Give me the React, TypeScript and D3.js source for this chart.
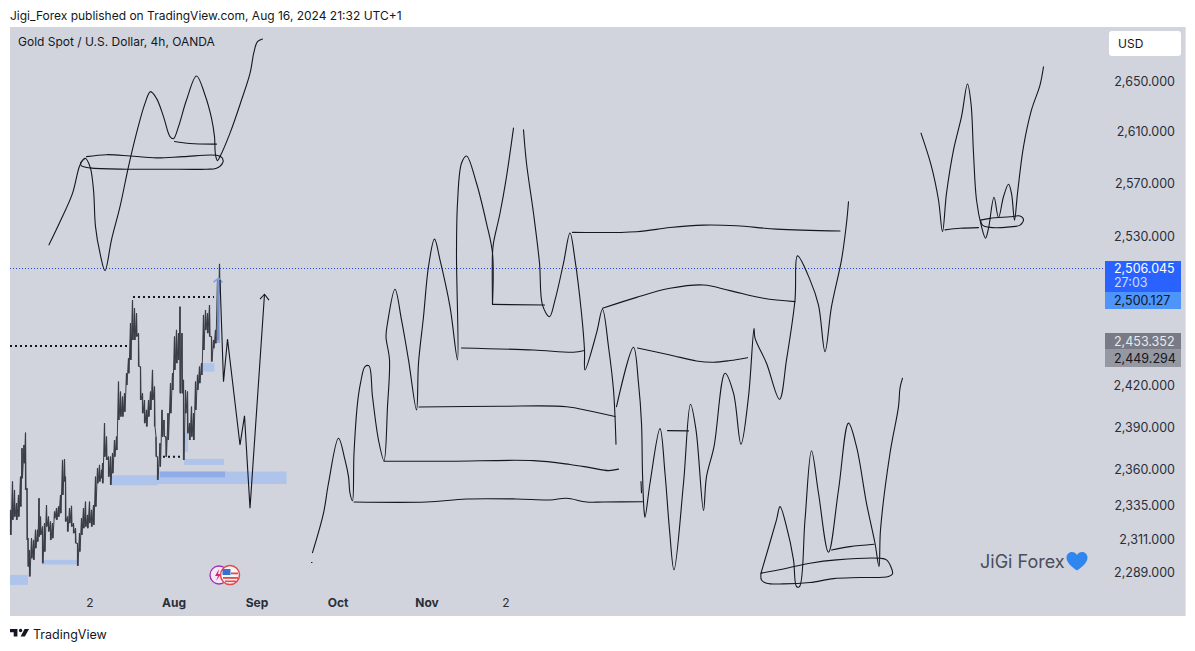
import React from 'react';
import * as d3 from 'd3';

type Pt = [number, number];

const WIDTH = 1195;
const HEIGHT = 651;

// price axis is logarithmic, x is bar number from the left edge of the pane
const priceTicks = [2650, 2610, 2570, 2530, 2420, 2390, 2360, 2335, 2311, 2289];
const timeTickBars = [160, 328, 494, 656, 834, 992];
const timeTickLabels = ['2', 'Aug', 'Sep', 'Oct', 'Nov', '2'];

const lastPrice = 2506.045;

const candleBars = [1, 5, 9, 13, 17, 21, 24, 28, 31, 34, 36, 39, 43, 47, 51, 55, 58, 61, 65, 69, 73, 77, 81, 85, 89, 93, 97, 101, 105, 109, 111, 115, 119, 123, 127, 131, 135, 139, 143, 147, 151, 155, 159, 163, 167, 171, 175, 179, 183, 185, 189, 193, 197, 201, 205, 209, 213, 217, 221, 225, 229, 233, 237, 241, 245, 249, 253, 257, 261, 265, 269, 273, 277, 281, 285, 289, 292, 295, 300, 304, 308, 312, 316, 321, 325, 329, 333, 337, 340, 344, 347, 351, 355, 359, 363, 367, 371, 375, 379, 383, 387, 391, 395, 399, 403, 407, 411, 415, 419];
const candleHighs = [2331.8, 2351.6, 2345.7, 2336.4, 2342.2, 2355, 2375, 2377.4, 2386.1, 2346.9, 2312.2, 2304.1, 2312.2, 2311, 2318, 2318, 2339.9, 2327.1, 2320.2, 2322.6, 2335.2, 2327.1, 2323.7, 2322.6, 2330.6, 2333, 2334.1, 2342.2, 2366.8, 2367.3, 2355, 2327.1, 2333, 2334.6, 2322.6, 2319.1, 2308.7, 2315.6, 2326, 2333, 2337.5, 2328.3, 2337.5, 2331.8, 2335.2, 2355, 2361, 2363.3, 2359.8, 2364.5, 2392.9, 2383.3, 2369.1, 2369.1, 2371.5, 2380.9, 2383.3, 2422.7, 2415.5, 2411.9, 2414.3, 2428.8, 2439.7, 2465.3, 2482.4, 2476.3, 2472.6, 2458, 2433.6, 2414.3, 2409.5, 2402.4, 2409.5, 2415.5, 2431.2, 2419.1, 2383.3, 2369.1, 2378.6, 2402.4, 2395.2, 2383.3, 2400, 2421.6, 2428.8, 2455.5, 2460.4, 2458, 2477.5, 2458, 2424, 2416.7, 2415.5, 2392.9, 2404.7, 2400, 2422.7, 2427.6, 2433.6, 2436.1, 2471.4, 2475, 2472.6, 2478.7, 2455.5, 2453, 2460.4, 2497.4, 2509.3];
const candleLows = [2314.5, 2324.9, 2327.1, 2324.9, 2327.1, 2334.1, 2353.9, 2364.5, 2345.7, 2311, 2292.7, 2286, 2298.4, 2297.3, 2305.3, 2309.9, 2313.3, 2314.5, 2295, 2303, 2320.2, 2316.8, 2311, 2312.2, 2326, 2324.9, 2327.1, 2329.5, 2342.2, 2351.6, 2323.7, 2316.8, 2322.6, 2320.2, 2315.6, 2308.7, 2293.2, 2303, 2314.5, 2319.1, 2320.2, 2319.1, 2322.6, 2320.2, 2321.4, 2334.1, 2350.4, 2351.6, 2353.9, 2350.4, 2369.1, 2366.8, 2355, 2349.2, 2357.4, 2369.1, 2373.8, 2395.2, 2397.6, 2397.6, 2401.1, 2420.3, 2428.8, 2438.5, 2453, 2453, 2455.5, 2433.6, 2409.5, 2400, 2392.9, 2390.5, 2397.6, 2402.4, 2409.5, 2390.5, 2369.1, 2352.8, 2362.1, 2383.3, 2383.3, 2369.1, 2380.9, 2400, 2416.7, 2431.2, 2436.1, 2438.5, 2414.3, 2414.3, 2366.8, 2400, 2385.7, 2380.9, 2383.3, 2380.9, 2402.4, 2416.7, 2421.6, 2427.6, 2445.7, 2460.4, 2458, 2455.5, 2437.3, 2447, 2450.6, 2453, 2487.4];

// fair value gap boxes: first bar, last bar, top, bottom
const gapBoxes: [number, number, number, number][] = [
  [0, 36, 2287, 2280.2],
  [65, 135, 2297.3, 2294.1],
  [203, 296, 2356, 2349],
  [296, 553, 2358.6, 2349.9],
  [348, 428, 2367.5, 2363.3],
  [383, 409, 2436.1, 2430],
  [348, 356, 2385.9, 2372.6],
];
const gapOverlap: [number, number, number, number] = [300, 430, 2358.6, 2354.6];

// dotted levels: first bar, last bar, price
const dottedLevels: [number, number, number][] = [
  [0, 240, 2448.6],
  [246, 408, 2484.6],
  [306, 346, 2369.1],
];

const blueArrowShaft: Pt[] = [[417, 2450.8], [417, 2498.6]];
const blueArrowHead: Pt[] = [[407, 2495.7], [417, 2498.6], [425, 2495.5]];

// hand drawn projections
const topLeftWave: Pt[] = [[78, 2523.6], [100, 2541], [125, 2562.7], [140, 2584.5], [150, 2589.6], [160, 2583.2], [167, 2565.3], [171, 2537.4], [180, 2517.3], [190, 2504.3], [203, 2527.4], [220, 2552.5], [237, 2583.2], [253, 2609.1], [270, 2632.4], [281, 2641.6], [293, 2636.3], [307, 2622], [320, 2606.4], [327, 2604.8], [337, 2614.2], [353, 2635], [373, 2654], [390, 2639], [403, 2620.8], [409, 2606.4], [411, 2592.2], [415, 2587.8], [420, 2590.9], [440, 2609.1], [463, 2635], [480, 2656], [488, 2673.2], [495, 2681.3], [505, 2683.4]];
const topLeftLoop: Pt[] = [[153, 2590.9], [193, 2592.4], [240, 2591.4], [293, 2589.9], [347, 2590.9], [413, 2591.9], [425, 2589.6], [425, 2585.8], [413, 2582], [393, 2581.2], [307, 2581.2], [233, 2581.2], [160, 2582.2], [143, 2583.7], [141, 2585.8], [150, 2589.6]];
const topLeftLevel: Pt[] = [[329, 2602.6], [360, 2601], [413, 2600.6]];
const candleProjection: Pt[] = [[420, 2497.4], [427, 2422.7], [435, 2453.6], [460, 2377.4], [469, 2398.1], [480, 2332.9], [509, 2486.7]];
const projectionHead: Pt[] = [[500, 2483.1], [509, 2486.7], [518, 2482.4]];

const strayDot: Pt[] = [[603, 2295.5], [604, 2295.5]];
const midWaveA: Pt[] = [[605, 2302.3], [627, 2329.5], [637, 2350.4], [657, 2382.2], [670, 2366.8], [677, 2355], [680, 2343.4], [685, 2338.2], [688, 2371.5], [695, 2407.1], [701, 2421.6], [710, 2433.6], [718, 2434.1], [725, 2411.9], [737, 2380.9], [748, 2366.3], [755, 2404.7], [759, 2438.5], [752, 2455.5], [755, 2465.3], [770, 2490.4], [783, 2467.7], [797, 2438.5], [813, 2402.4], [817, 2436.1], [827, 2470.1], [837, 2507.3], [849, 2527.9], [860, 2512.3], [880, 2477.5], [895, 2438.5], [893, 2517.3], [895, 2555.1], [903, 2585.8], [913, 2591.4], [933, 2570.4], [953, 2539.9], [965, 2517.3], [965, 2479.5]];
const midWaveB: Pt[] = [[965, 2479.5], [965, 2517.3], [967, 2525], [980, 2547.5], [992, 2573], [1007, 2613]];
const midWaveC: Pt[] = [[1027, 2611.7], [1033, 2585.8], [1047, 2547.5], [1059, 2509.9], [1065, 2478.7], [1079, 2470.1], [1090, 2482.4], [1107, 2509.9], [1120, 2532.5], [1130, 2512.3], [1143, 2472.6], [1149, 2445.7], [1150, 2431.2], [1173, 2458], [1185, 2475.6], [1197, 2448.1], [1207, 2416.7], [1210, 2397.6], [1212, 2378]];
const midWaveD: Pt[] = [[1213, 2404.7], [1247, 2447.7], [1257, 2421.6], [1263, 2392.9], [1265, 2357.4], [1268, 2331.8], [1270, 2326.7], [1280, 2350.4], [1300, 2389], [1310, 2357.4], [1319, 2318], [1328, 2290.5], [1347, 2350.4], [1361, 2406.4], [1372, 2388.1], [1387, 2331.3], [1393, 2355], [1408, 2376.2], [1430, 2428.8], [1447, 2414.4], [1462, 2378], [1477, 2411.9], [1488, 2461.6], [1490, 2454.3], [1513, 2436.1], [1539, 2410], [1553, 2438.5], [1570, 2482.4], [1575, 2515.3], [1600, 2497.4], [1617, 2478.7], [1630, 2444.5], [1643, 2477.5], [1663, 2512.3], [1673, 2539.9], [1677, 2556.3]];

const levelA: Pt[] = [[688, 2337.3], [833, 2337.3], [913, 2339.4], [1013, 2339.4], [1080, 2338.7], [1113, 2339.9], [1153, 2337.3], [1187, 2337.3], [1265, 2337.5]];
const levelB: Pt[] = [[748, 2365.9], [880, 2365.9], [1047, 2366.3], [1120, 2363.6], [1160, 2361.4], [1197, 2359.3], [1217, 2360.3]];
const levelC: Pt[] = [[818, 2404.5], [980, 2405], [1113, 2404.7], [1160, 2401.6], [1210, 2397.6]];
const levelD: Pt[] = [[903, 2447.2], [1047, 2445.7], [1127, 2444.1], [1147, 2445.2]];
const levelE: Pt[] = [[965, 2479.2], [1069, 2478.7]];
const levelF: Pt[] = [[1125, 2533], [1253, 2533.5], [1320, 2536.7], [1387, 2538.5], [1453, 2538], [1533, 2535.5], [1660, 2534]];
const levelG: Pt[] = [[1185, 2476.3], [1253, 2484.4], [1320, 2491.1], [1387, 2493.6], [1440, 2489.4], [1507, 2483.7], [1570, 2481.2]];
const levelH: Pt[] = [[1255, 2447.2], [1320, 2442.1], [1373, 2437.7], [1407, 2436.8], [1440, 2438], [1475, 2440.1]];
const levelI: Pt[] = [[1315, 2387.6], [1357, 2387.4]];
const levelTick: Pt[] = [[1262, 2351.6], [1263, 2343.7]];

const lowerWave: Pt[] = [[1502, 2288.2], [1533, 2324.9], [1540, 2334.1], [1553, 2320.2], [1567, 2297.3], [1573, 2279.1], [1579, 2279.1], [1590, 2324.9], [1603, 2373.3], [1617, 2343.4], [1637, 2302.5], [1657, 2345.7], [1677, 2392.9], [1693, 2376.2], [1713, 2336.4], [1730, 2308.7], [1738, 2292.7], [1741, 2318], [1760, 2371.5], [1777, 2404.7], [1780, 2418], [1785, 2425.2]];
const lowerLoop: Pt[] = [[1502, 2288.2], [1547, 2291.1], [1600, 2295], [1653, 2297.3], [1740, 2298.4], [1753, 2297.3], [1763, 2291.6], [1765, 2287.7], [1757, 2285.9], [1700, 2285.2], [1647, 2284.5], [1600, 2281.8], [1547, 2280.9], [1513, 2281.4], [1503, 2283.6], [1502, 2288.2]];
const lowerLevel: Pt[] = [[1643, 2304.1], [1680, 2306.4], [1728, 2308]];

const rightWave: Pt[] = [[1822, 2609.1], [1843, 2583.2], [1857, 2557.6], [1865, 2533.6], [1873, 2562.7], [1887, 2596], [1903, 2622], [1915, 2647.6], [1922, 2632.4], [1927, 2593.5], [1933, 2557.6], [1943, 2537.4], [1951, 2528.6], [1957, 2536], [1968, 2559.7], [1977, 2544.2], [1987, 2560.1], [1997, 2569.6], [2003, 2562.7], [2009, 2542.3], [2015, 2562.7], [2027, 2598.6], [2043, 2627.2], [2060, 2646.8], [2067, 2661.3]];
const rightLevel: Pt[] = [[1870, 2534.9], [1900, 2536.1], [1937, 2536.6]];
const rightLoop: Pt[] = [[1941, 2542.3], [1960, 2543.6], [2000, 2544.8], [2020, 2545.5], [2027, 2542.8], [2020, 2538.5], [2000, 2537.2], [1960, 2536.8], [1945, 2538.5], [1941, 2542.3]];

const curvedStrokes = [topLeftWave, topLeftLoop, topLeftLevel, strayDot, midWaveA, midWaveB, midWaveC, midWaveD, levelA, levelB, levelC, levelD, levelE, levelF, levelG, levelH, levelI, levelTick, lowerWave, lowerLoop, lowerLevel, rightWave, rightLevel, rightLoop];
const straightStrokes = [candleProjection, projectionHead];

const FONT = 'Inter, "Liberation Sans", sans-serif';

const x = d3.scaleLinear().domain([0, 2190]).range([10, 1105]);
const y = d3.scaleLog().domain([2289, 2650]).range([572, 81]);

const curve = d3.line<Pt>().x((d) => x(d[0])).y((d) => y(d[1])).curve(d3.curveCatmullRom.alpha(0.5));
const straight = d3.line<Pt>().x((d) => x(d[0])).y((d) => y(d[1]));
const priceFormat = d3.format(',.3f');

// bars are under a pixel wide in the original so they blend into one jagged trace
const candleTrace: Pt[] = candleBars.flatMap((b, i): Pt[] => [
  [b, candleHighs[i]],
  [b + 1, candleLows[i]],
]);

const PriceTag = ({ top, h, fill, label, color }: { top: number; h: number; fill: string; label: string; color: string }) => (
  <g>
    <rect x={1105} y={top} width={76} height={h} fill={fill} />
    <text x={1114} y={top + h / 2 + 4.5} fontSize={12.5} fill={color}>{label}</text>
  </g>
);

const App: React.FC = () => {
  const lastY = Math.round(y(lastPrice)) + 0.5;
  return (
    <svg
      width={WIDTH}
      height={HEIGHT}
      viewBox={`0 0 ${WIDTH} ${HEIGHT}`}
      style={{ position: 'absolute', left: 0, top: 0, display: 'block', background: '#fff' }}
      fontFamily={FONT}
    >
      <text x={10} y={20} fontSize={12} fill="#131722">Jigi_Forex published on TradingView.com, Aug 16, 2024 21:32 UTC+1</text>

      <rect x={10} y={27} width={1175} height={589} fill="#d1d4dc" />
      <line x1={1185.5} x2={1185.5} y1={27} y2={616} stroke="#e0e3eb" />
      <text x={18} y={46} fontSize={12} fill="#131722">Gold Spot / U.S. Dollar, 4h, OANDA</text>

      {gapBoxes.map((b, i) => (
        <rect key={i} x={x(b[0])} width={x(b[1]) - x(b[0])} y={y(b[2])} height={y(b[3]) - y(b[2])} fill="#aec4ea" />
      ))}
      <rect x={x(gapOverlap[0])} width={x(gapOverlap[1]) - x(gapOverlap[0])} y={y(gapOverlap[2])} height={y(gapOverlap[3]) - y(gapOverlap[2])} fill="#8fabe8" />

      <line x1={10} x2={1105} y1={lastY} y2={lastY} stroke="#1f4be0" strokeWidth={1} strokeDasharray="1 2" />

      {candleBars.map((b, i) => (
        <line key={b} x1={x(b)} x2={x(b)} y1={y(candleHighs[i])} y2={y(candleLows[i])} stroke="#3a3d47" strokeWidth={1.2} />
      ))}
      <path d={straight(candleTrace)!} fill="none" stroke="#3a3d47" strokeWidth={1} />

      {dottedLevels.map((d, i) => (
        <line key={i} x1={x(d[0])} x2={x(d[1])} y1={y(d[2])} y2={y(d[2])} stroke="#131722" strokeWidth={2} strokeDasharray="2 3" />
      ))}

      <path d={straight(blueArrowShaft)!} fill="none" stroke="#7d9fe6" strokeWidth={3} opacity={0.8} />
      <path d={straight(blueArrowHead)!} fill="none" stroke="#7d9fe6" strokeWidth={1.5} />

      {curvedStrokes.map((s, i) => (
        <path key={i} d={curve(s)!} fill="none" stroke="#131722" strokeWidth={1.1} strokeLinecap="round" />
      ))}
      {straightStrokes.map((s, i) => (
        <path key={i} d={straight(s)!} fill="none" stroke="#131722" strokeWidth={1.1} />
      ))}

      {/* news events */}
      <g>
        <circle cx={x(418)} cy={575} r={9} fill="#f3e9f5" stroke="#a02fb5" strokeWidth={1.3} />
        <path d="M219 569l-4 7h3l-2 5 5-7h-3z" fill="#d6237f" />
        <circle cx={x(440)} cy={575} r={9.5} fill="#f5f5f5" stroke="#e5494f" strokeWidth={1.5} />
        <rect x={222.5} y={569} width={8} height={6} fill="#3a6fd0" />
        <rect x={223} y={577} width={15} height={1.8} fill="#e5494f" />
        <rect x={231} y={572.5} width={7} height={1.8} fill="#e5494f" />
        <rect x={225} y={580.5} width={11} height={1.6} fill="#e5494f" />
      </g>

      {/* price axis */}
      {priceTicks.map((p) => (
        <text key={p} x={1175} y={y(p) + 4.5} textAnchor="end" fontSize={12.5} fill="#2a2e39">{priceFormat(p)}</text>
      ))}
      <rect x={1109} y={31} width={72} height={25} rx={3} fill="#fff" />
      <text x={1118} y={48} fontSize={12} fill="#131722">USD</text>

      <rect x={1105} y={261} width={76} height={31} fill="#2962ff" />
      <text x={1114} y={273} fontSize={12.5} fill="#fff">{priceFormat(lastPrice)}</text>
      <text x={1114} y={287} fontSize={12.5} fill="#cfdcff">27:03</text>
      <PriceTag top={292} h={17} fill="#4d94fb" label="2,500.127" color="#131722" />
      <PriceTag top={333} h={16} fill="#787b86" label="2,453.352" color="#e8e9ec" />
      <PriceTag top={349} h={18} fill="#9598a1" label="2,449.294" color="#131722" />

      {/* time axis */}
      {timeTickBars.map((b, i) => (
        <text
          key={i}
          x={x(b)}
          y={607}
          textAnchor="middle"
          fontSize={12}
          fontWeight={timeTickLabels[i] === '2' ? 400 : 700}
          fill="#2a2e39"
        >
          {timeTickLabels[i]}
        </text>
      ))}

      {/* watermark */}
      <text x={980} y={568} fontSize={18} fill="#4a4e5a">JiGi Forex</text>
      <path d="M1077 570.5c-5-3.5-10.5-7.5-10.5-13 0-3 2.3-5.5 5.3-5.5 2.2 0 4.2 1.2 5.2 3 1-1.8 3-3 5.2-3 3 0 5.3 2.5 5.3 5.5 0 5.5-5.5 9.5-10.5 13z" fill="#2f86ee" />

      {/* footer */}
      <g transform="translate(10,625.8) scale(0.53)" fill="#131722">
        <path d="M14 6H0v6h7v8h7V6z" />
        <circle cx={20} cy={9} r={3.2} />
        <path d="M28 20h-8l7.5-14H36l-8 14z" />
      </g>
      <text x={33} y={638.5} fontSize={12.5} fill="#131722">TradingView</text>
    </svg>
  );
};

export default App;
